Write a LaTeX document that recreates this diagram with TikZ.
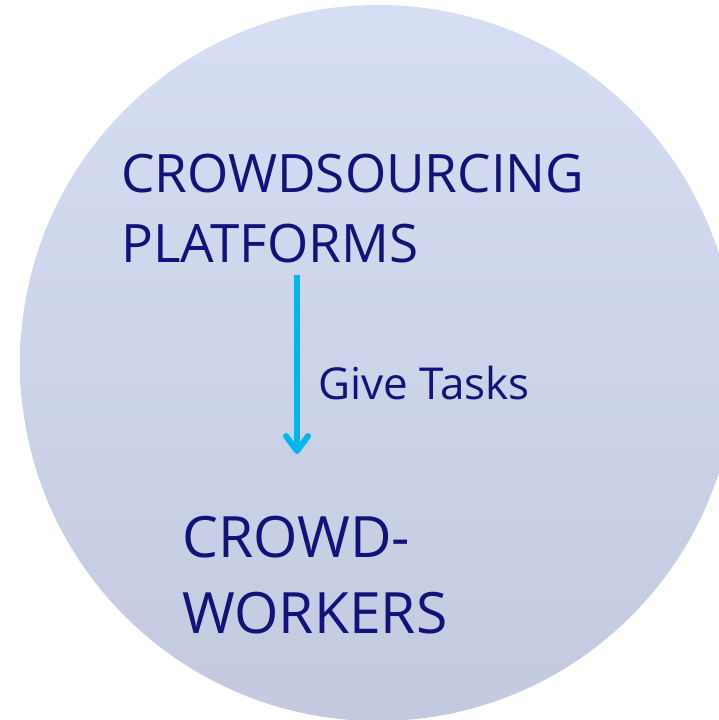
\documentclass[tikz,border=0pt]{standalone}
\usepackage{fontspec}
\setmainfont{Open Sans}
\usetikzlibrary{arrows.meta, positioning, calc}
\definecolor{crowdnavy}{HTML}{12137A}
\definecolor{taskcyan}{HTML}{00B6EF}
\definecolor{discTop}{HTML}{D6DEF4}
\definecolor{discBottom}{HTML}{C3CADF}

\begin{document}
\begin{tikzpicture}[x=1pt, y=-1pt,
    title/.style={anchor=north west, inner sep=0pt, align=left, text=crowdnavy, font=\fontsize{53}{70}\selectfont},
    group/.style={anchor=north west, inner sep=0pt, align=left, text=crowdnavy, font=\fontsize{57}{76}\selectfont},
    arrow/.style={-{Straight Barb[length=15pt, width=22pt, line width=6pt, round]}, line width=6pt, color=taskcyan,
        preaction={draw=black!35, opacity=0.3, transform canvas={xshift=1pt, yshift=-2pt}}},
    label/.style={font=\fontsize{44}{50}\selectfont, text=crowdnavy, anchor=west, inner sep=0pt}
]
\useasboundingbox (0,0) rectangle (718,720);

% the disc
\shade[top color=discTop, bottom color=discBottom] (378,363) circle[radius=358];

% platforms and workers
\node[title] (platforms) at (121,154) {CROWDSOURCING\\PLATFORMS};
\node[group] (workers) at (182,516) {CROWD-\\WORKERS};

\coordinate (from) at ($(platforms.south west)+(176,12)$);
\coordinate (to) at ($(workers.north west)+(115,-62)$);

\draw[arrow] (from) -- node[label, pos=0.6, xshift=18pt] {Give Tasks} (to);

\end{tikzpicture}
\end{document}
